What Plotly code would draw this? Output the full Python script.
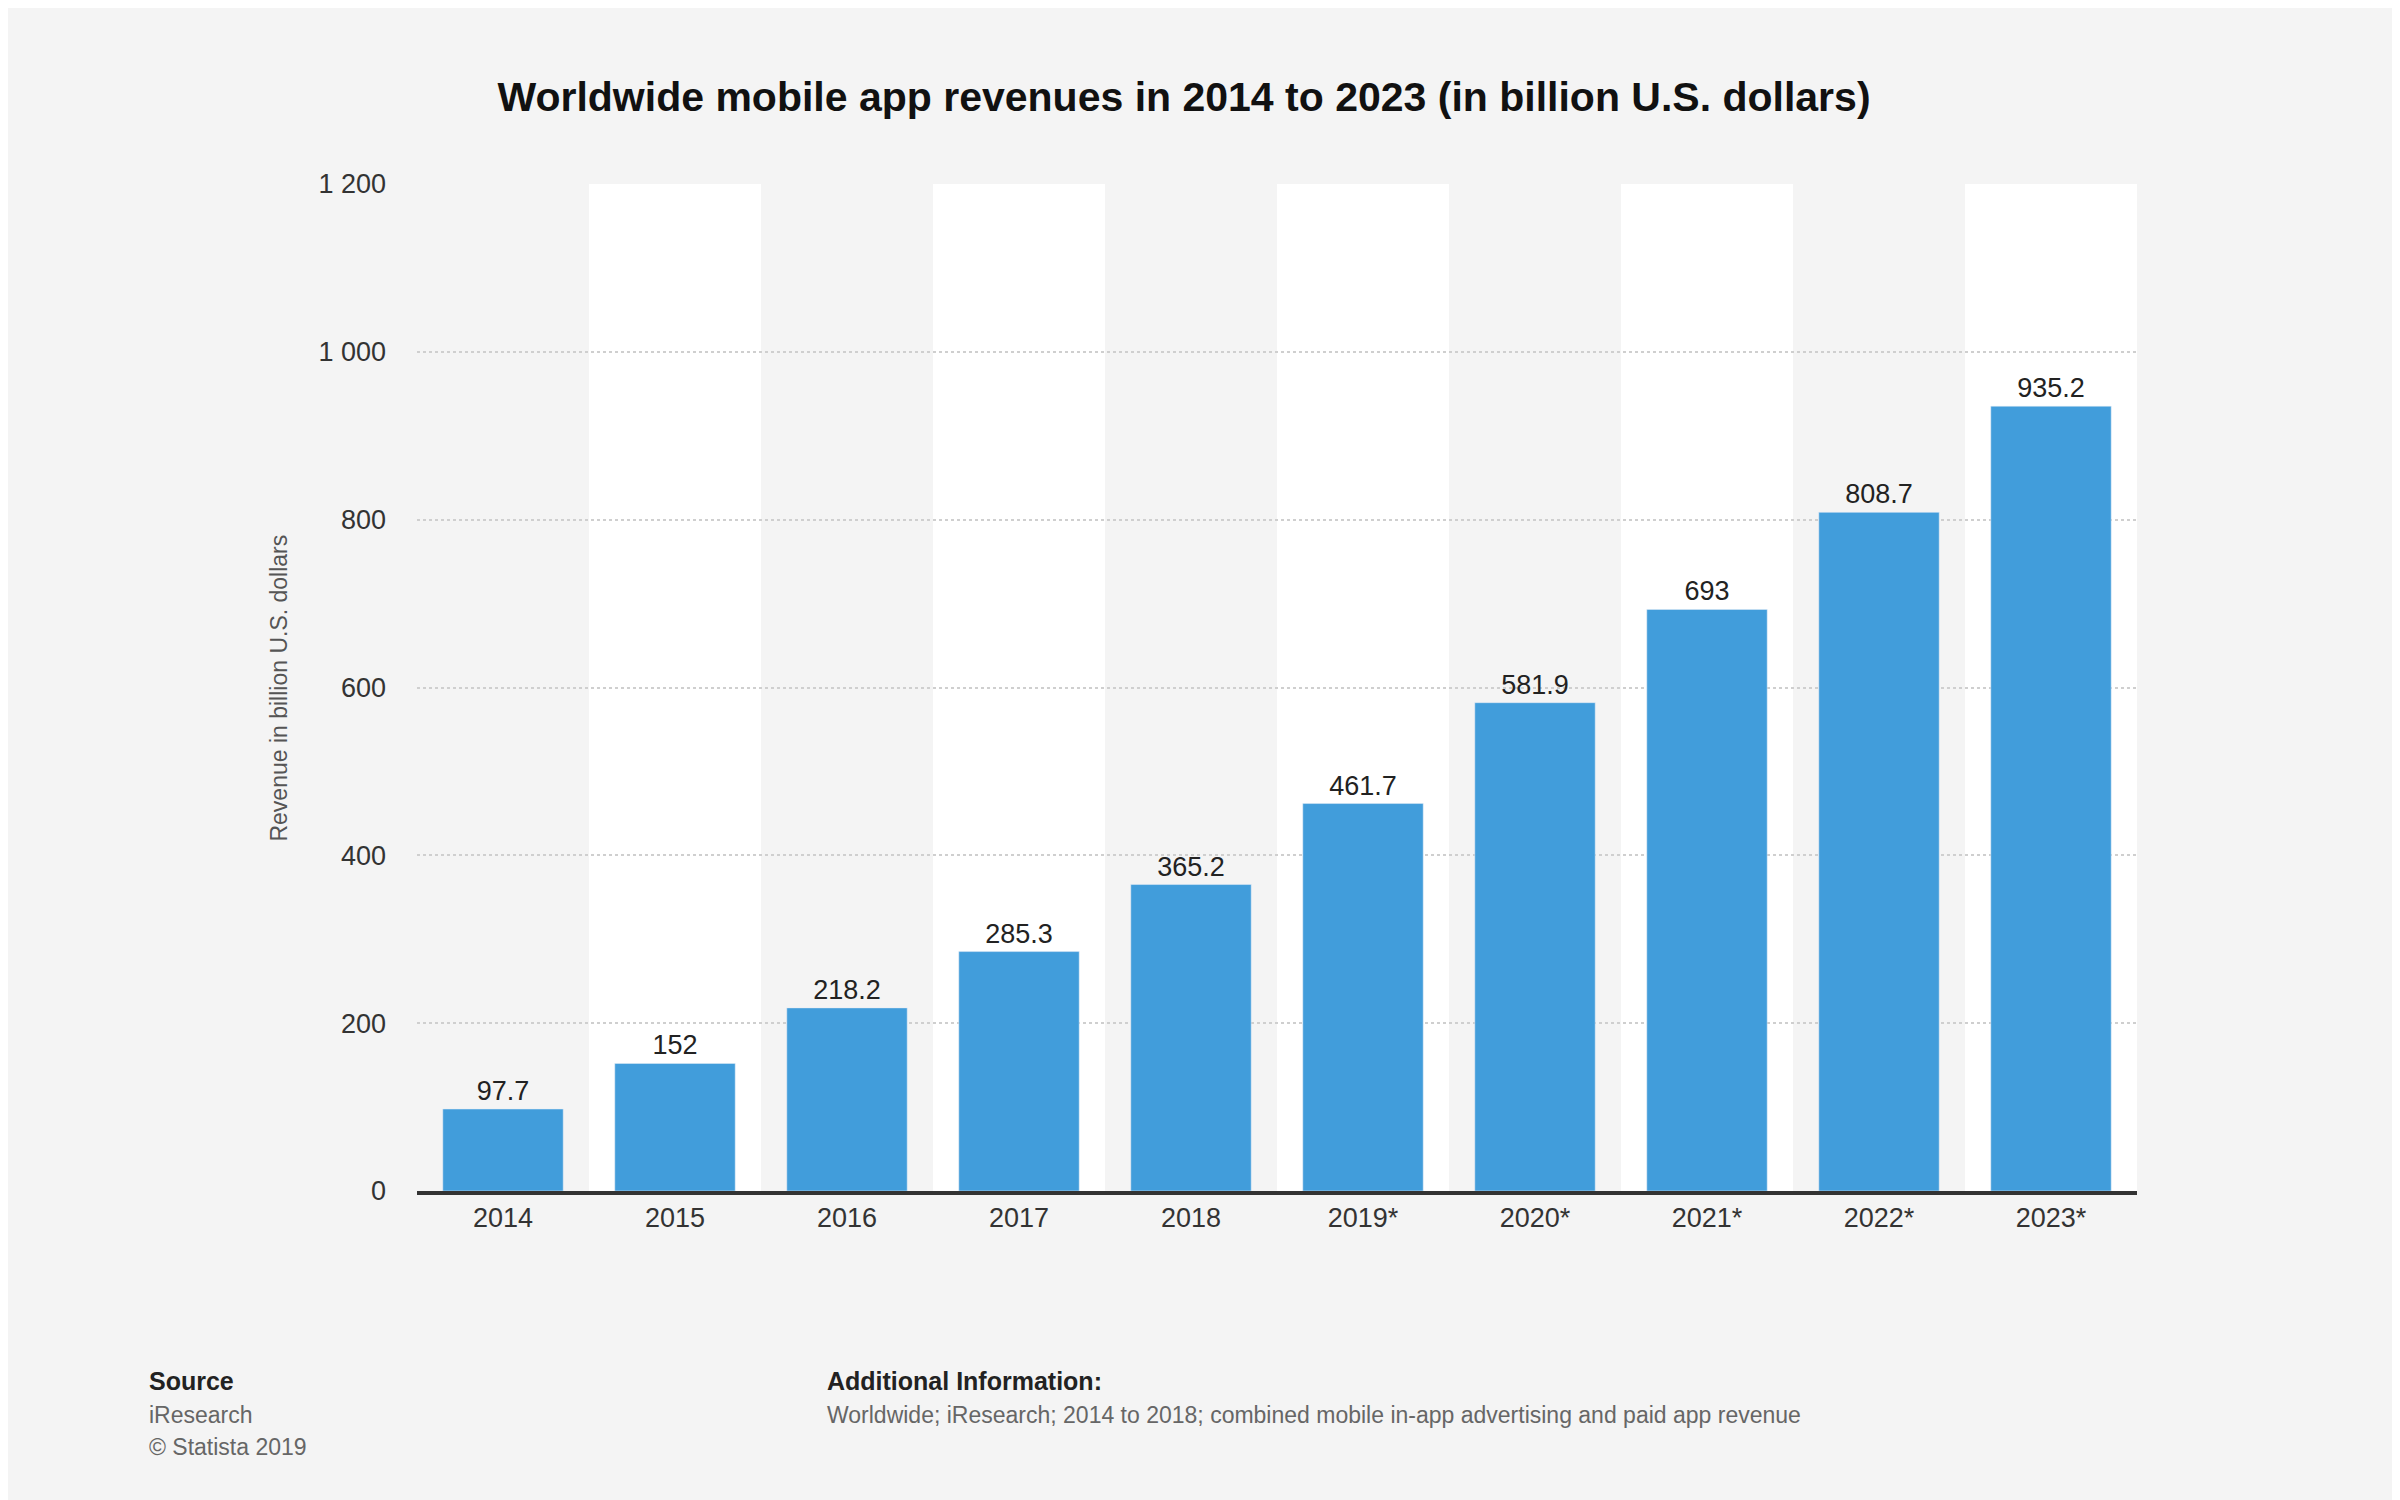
import plotly.graph_objects as go

years = ["2014", "2015", "2016", "2017", "2018", "2019*", "2020*", "2021*", "2022*", "2023*"]
revenue = [97.7, 152, 218.2, 285.3, 365.2, 461.7, 581.9, 693, 808.7, 935.2]
labels = ["97.7", "152", "218.2", "285.3", "365.2", "461.7", "581.9", "693", "808.7", "935.2"]
yticks = [0, 200, 400, 600, 800, 1000, 1200]
yticktext = ["0", "200", "400", "600", "800", "1 000", "1 200"]

fig = go.Figure(go.Bar(
    x=years, y=revenue, text=labels, textposition="outside",
    textfont=dict(size=27, color="#222"), marker_color="#419ddb",
    cliponaxis=False,
))

shapes = []
for i in range(len(years)):
    if i % 2 == 1:
        shapes.append(dict(type="rect", xref="x", yref="paper", x0=i - 0.5, x1=i + 0.5,
                           y0=0, y1=1, fillcolor="white", line_width=0, layer="below"))
fig.update_layout(shapes=shapes)

fig.update_layout(
    width=2400, height=1500,
    paper_bgcolor="#f4f4f4", plot_bgcolor="#f4f4f4",
    margin=dict(l=409, r=271, t=176, b=317),
    font=dict(family="Liberation Sans, Arial, sans-serif", color="#333"),
    title=dict(text="<b>Worldwide mobile app revenues in 2014 to 2023 (in billion U.S. dollars)</b>",
               x=0.49, xanchor="center", y=0.941, yanchor="middle",
               font=dict(size=41, color="#111")),
    bargap=0.3, showlegend=False,
    xaxis=dict(showline=True, linecolor="#333", linewidth=4, ticks="",
               tickfont=dict(size=27, color="#333"), showgrid=False),
    yaxis=dict(range=[0, 1200], tickvals=yticks, ticktext=yticktext,
               tickfont=dict(size=27, color="#333"), showgrid=True,
               gridcolor="#cfcfcf", griddash="dot", gridwidth=1.5, zeroline=False,
               ticklabelstandoff=30),
    annotations=[
        dict(text="Revenue in billion U.S. dollars", textangle=-90, xref="paper", yref="paper",
             x=-0.0895, y=0.499, showarrow=False, font=dict(size=23, color="#555")),
        dict(text="<b>Source</b>", xref="paper", yref="paper", x=-0.157, y=-0.189,
             xanchor="left", yanchor="middle", showarrow=False, font=dict(size=25, color="#222")),
        dict(text="iResearch", xref="paper", yref="paper", x=-0.157, y=-0.222,
             xanchor="left", yanchor="middle", showarrow=False, font=dict(size=23, color="#666")),
        dict(text="© Statista 2019", xref="paper", yref="paper", x=-0.157, y=-0.254,
             xanchor="left", yanchor="middle", showarrow=False, font=dict(size=23, color="#666")),
        dict(text="<b>Additional Information:</b>", xref="paper", yref="paper", x=0.237, y=-0.189,
             xanchor="left", yanchor="middle", showarrow=False, font=dict(size=25, color="#222")),
        dict(text="Worldwide; iResearch; 2014 to 2018; combined mobile in-app advertising and paid app revenue",
             xref="paper", yref="paper", x=0.237, y=-0.222,
             xanchor="left", yanchor="middle", showarrow=False, font=dict(size=23, color="#666")),
    ],
)

fig.write_html("out.html")
